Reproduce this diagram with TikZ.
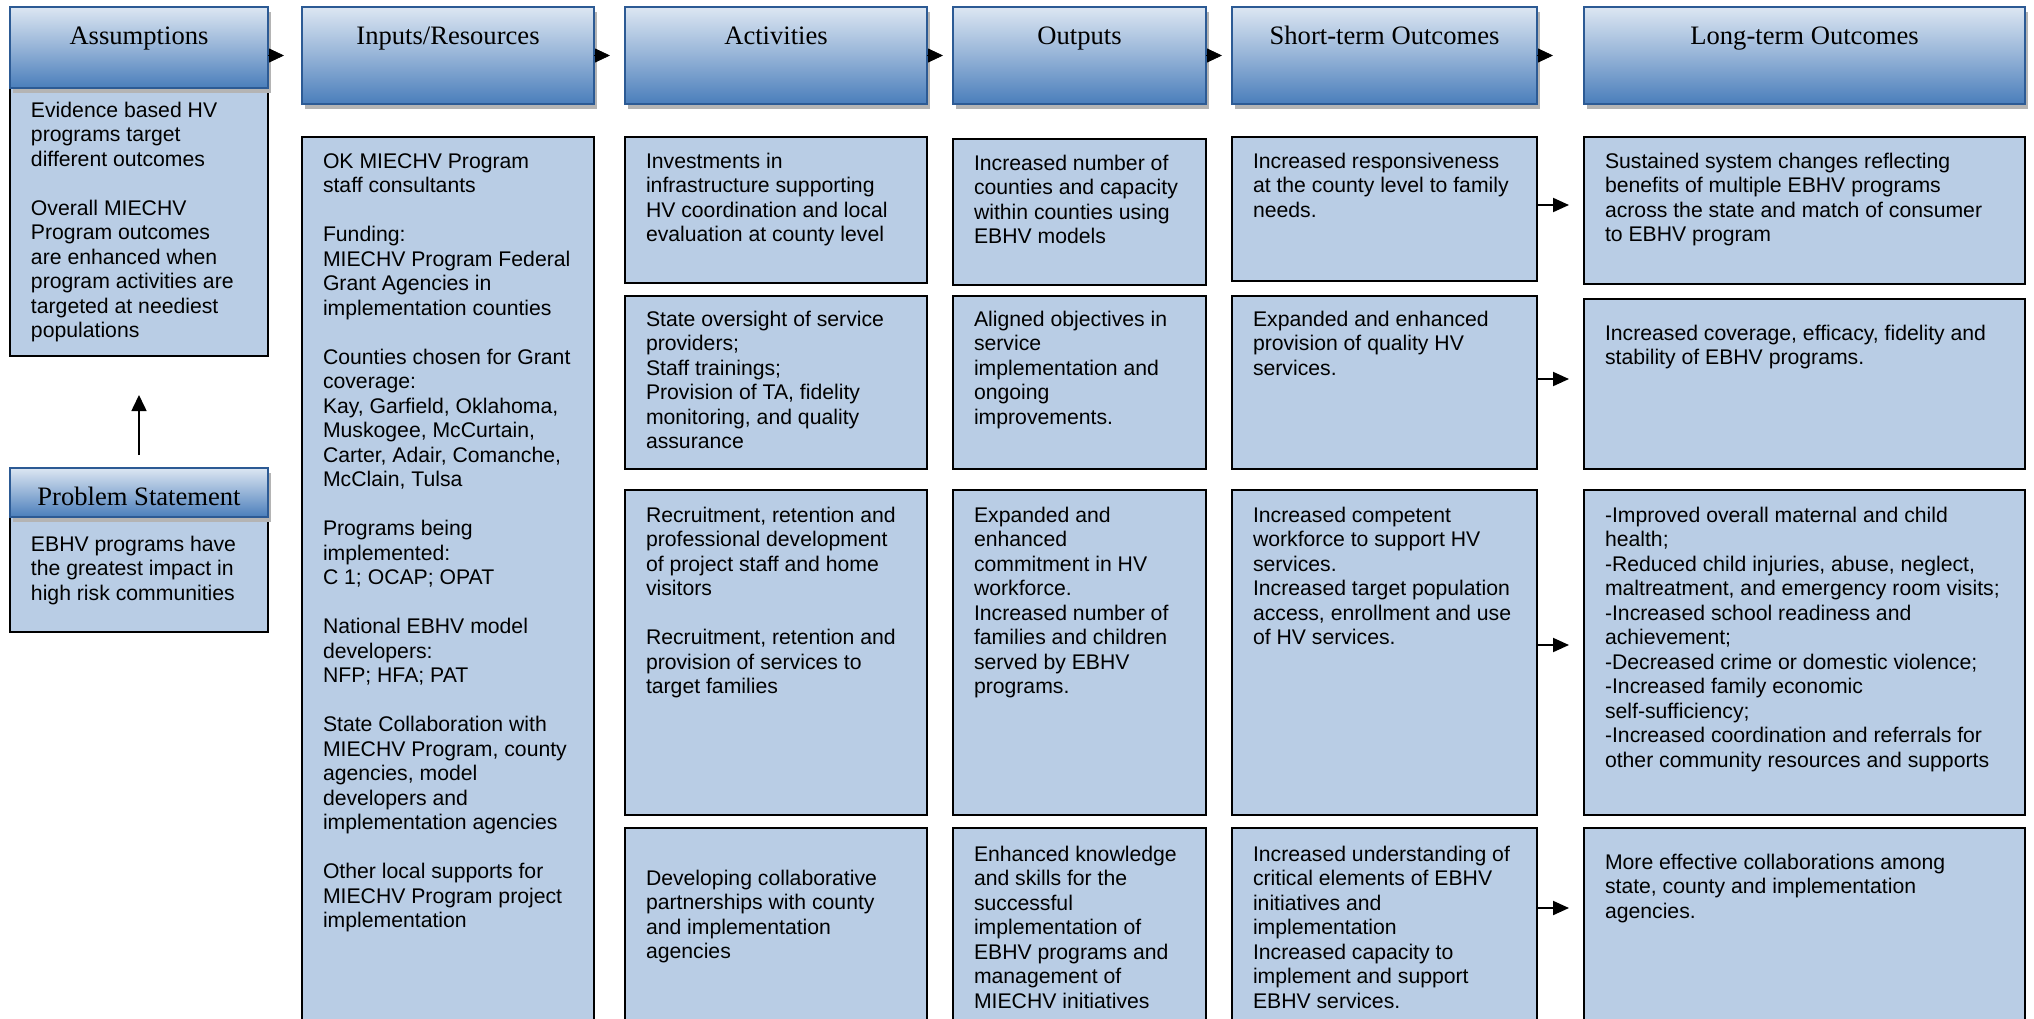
\documentclass[tikz,border=0pt]{standalone}
\usepackage{fontspec}
\setmainfont{Liberation Serif}
\setsansfont{Liberation Sans}
\usetikzlibrary{arrows.meta,shadows}
\definecolor{bodyfill}{HTML}{B9CDE5}
\definecolor{hdrtop}{HTML}{DCE6F2}
\definecolor{hdrmid}{HTML}{95B3D7}
\definecolor{hdrbot}{HTML}{4A7EBB}
\definecolor{hdrline}{HTML}{2C5A94}
\definecolor{shadowc}{HTML}{B4B4B4}
\newcommand\bodyfnt{\sffamily\fontsize{10.6}{12.25}\selectfont}
\newcommand\hdrfnt{\rmfamily\fontsize{13.3}{15}\selectfont}
\tikzset{
 bodybox/.style={draw=black, line width=1pt, fill=bodyfill, anchor=north west, inner sep=0pt, outer sep=0pt},
 hdrbox/.style={draw=hdrline, line width=1.3pt, top color=hdrtop, bottom color=hdrbot, middle color=hdrmid,
   anchor=north west, inner sep=0pt, outer sep=0pt,
   drop shadow={shadow xshift=1.5pt, shadow yshift=-2.5pt, fill=shadowc, opacity=1}},
 hdrtext/.style={font=\hdrfnt, anchor=base, inner sep=0pt},
 bodytext/.style={font=\bodyfnt, anchor=north west, align=left, inner sep=0pt, outer sep=0pt},
 hdrarrow/.style={line width=0.4pt, -{Triangle[length=7.5pt,width=7pt]}},
 bodyarrow/.style={line width=1pt, -{Triangle[length=8pt,width=7pt]}},
 uparrow/.style={line width=0.8pt, -{Triangle[length=8pt,width=7.5pt]}},
}
\newcommand\hbx[6]{\node[hdrbox, minimum width=#4*0.5pt, minimum height=#5*0.5pt] (#1) at (#2,#3) {};
 \node[hdrtext] (#1t) at ([yshift=-18.5pt]#1.north) {#6};}
\newcommand\bbx[5]{\node[bodybox, minimum width=#4*0.5pt, minimum height=#5*0.5pt] (#1) at (#2,#3) {};}
\newcommand\btx[4]{\node[bodytext] (#1) at ([shift={(21,#3-17.15)}]#2.north west) {\strut#4};}
\begin{document}
\begin{tikzpicture}[x=0.5pt,y=-0.5pt]
\path[use as bounding box] (0,0) rectangle (2034,1018);
\clip (0,0) rectangle (2034,1018);
% bodies
\bbx{aB}{10}{88}{258}{268}
\bbx{pB}{10}{517}{258}{115}
\bbx{iB}{302}{137}{292}{903}
\bbx{c1}{625}{137}{302}{146}
\bbx{c2}{625}{296}{302}{173}
\bbx{c3}{625}{490}{302}{325}
\bbx{c4}{625}{828}{302}{212}
\bbx{o1}{953}{139}{253}{146}
\bbx{o2}{953}{296}{253}{173}
\bbx{o3}{953}{490}{253}{325}
\bbx{o4}{953}{828}{253}{212}
\bbx{s1}{1232}{137}{305}{144}
\bbx{s2}{1232}{296}{305}{173}
\bbx{s3}{1232}{490}{305}{325}
\bbx{s4}{1232}{828}{305}{212}
\bbx{l1}{1584}{137}{441}{147}
\bbx{l2}{1584}{299}{441}{170}
\bbx{l3}{1584}{490}{441}{325}
\bbx{l4}{1584}{828}{441}{212}
% headers
\hbx{hA}{10}{7}{258}{81}{Assumptions}
\hbx{hI}{302}{7}{292}{97}{Inputs/Resources}
\hbx{hC}{625}{7}{302}{97}{Activities}
\hbx{hO}{953}{7}{253}{97}{Outputs}
\hbx{hS}{1232}{7}{305}{97}{Short-term Outcomes}
\hbx{hL}{1584}{7}{441}{97}{Long-term Outcomes}
\hbx{hP}{10}{468}{258}{49}{Problem Statement}
% texts
\btx{aT}{aB}{29}{Evidence based HV\\programs target\\different outcomes\\[12.25pt]Overall MIECHV\\Program outcomes\\are enhanced when\\program activities are\\targeted at neediest\\populations}
\btx{pT}{pB}{34}{EBHV programs have\\the greatest impact in\\high risk communities}
\btx{iT}{iB}{31}{OK MIECHV Program\\staff consultants\\[12.25pt]Funding:\\MIECHV Program Federal\\Grant Agencies in\\implementation counties\\[12.25pt]Counties chosen for Grant\\coverage:\\Kay, Garfield, Oklahoma,\\Muskogee, McCurtain,\\Carter, Adair, Comanche,\\McClain, Tulsa\\[12.25pt]Programs being\\implemented:\\C 1; OCAP; OPAT\\[12.25pt]National EBHV model\\developers:\\NFP; HFA; PAT\\[12.25pt]State Collaboration with\\MIECHV Program, county\\agencies, model\\developers and\\implementation agencies\\[12.25pt]Other local supports for\\MIECHV Program project\\implementation}
\btx{c1T}{c1}{31}{Investments in\\infrastructure supporting\\HV coordination and local\\evaluation at county level}
\btx{c2T}{c2}{30}{State oversight of service\\providers;\\Staff trainings;\\Provision of TA, fidelity\\monitoring, and quality\\assurance}
\btx{c3T}{c3}{32}{Recruitment, retention and\\professional development\\of project staff and home\\visitors\\[12.25pt]Recruitment, retention and\\provision of services to\\target families}
\btx{c4T}{c4}{57}{Developing collaborative\\partnerships with county\\and implementation\\agencies}
\btx{o1T}{o1}{31}{Increased number of\\counties and capacity\\within counties using\\EBHV models}
\btx{o2T}{o2}{30}{Aligned objectives in\\service\\implementation and\\ongoing\\improvements.}
\btx{o3T}{o3}{32}{Expanded and\\enhanced\\commitment in HV\\workforce.\\Increased number of\\families and children\\served by EBHV\\programs.}
\btx{o4T}{o4}{33}{Enhanced knowledge\\and skills for the\\successful\\implementation of\\EBHV programs and\\management of\\MIECHV initiatives}
\btx{s1T}{s1}{31}{Increased responsiveness\\at the county level to family\\needs.}
\btx{s2T}{s2}{30}{Expanded and enhanced\\provision of quality HV\\services.}
\btx{s3T}{s3}{32}{Increased competent\\workforce to support HV\\services.\\Increased target population\\access, enrollment and use\\of HV services.}
\btx{s4T}{s4}{33}{Increased understanding of\\critical elements of EBHV\\initiatives and\\implementation\\Increased capacity to\\implement and support\\EBHV services.}
\btx{l1T}{l1}{31}{Sustained system changes reflecting\\benefits of multiple EBHV programs\\across the state and match of consumer\\to EBHV program}
\btx{l2T}{l2}{41}{Increased coverage, efficacy, fidelity and\\stability of EBHV programs.}
\btx{l3T}{l3}{32}{-Improved overall maternal and child\\health;\\-Reduced child injuries, abuse, neglect,\\maltreatment, and emergency room visits;\\-Increased school readiness and\\achievement;\\-Decreased crime or domestic violence;\\-Increased family economic\\self-sufficiency;\\-Increased coordination and referrals for\\other community resources and supports}
\btx{l4T}{l4}{41}{More effective collaborations among\\state, county and implementation\\agencies.}
% header arrows
\draw[hdrarrow, shorten >=9pt] (hA.east |- hI.west) -- (hI.west);
\draw[hdrarrow, shorten >=7.5pt] (hI.east) -- (hC.west);
\draw[hdrarrow, shorten >=5pt] (hC.east) -- (hO.west);
\draw[hdrarrow, shorten >=5pt] (hO.east) -- (hS.west);
\draw[hdrarrow, shorten >=15.5pt] (hS.east) -- (hL.west);
% problem -> assumptions
\draw[uparrow, shorten <=6.5pt, shorten >=19.5pt] (hP.north) -- (aB.south);
% short -> long
\coordinate (r1) at ([yshift=-34pt]s1.north east);
\coordinate (r2) at ([yshift=-41.5pt]s2.north east);
\coordinate (r3) at ([yshift=-77.5pt]s3.north east);
\coordinate (r4) at ([yshift=-40pt]s4.north east);
\draw[bodyarrow, shorten >=7.5pt] (r1) -- (r1 -| l1.west);
\draw[bodyarrow, shorten >=7.5pt] (r2) -- (r2 -| l2.west);
\draw[bodyarrow, shorten >=7.5pt] (r3) -- (r3 -| l3.west);
\draw[bodyarrow, shorten >=7.5pt] (r4) -- (r4 -| l4.west);
\end{tikzpicture}
\end{document}
